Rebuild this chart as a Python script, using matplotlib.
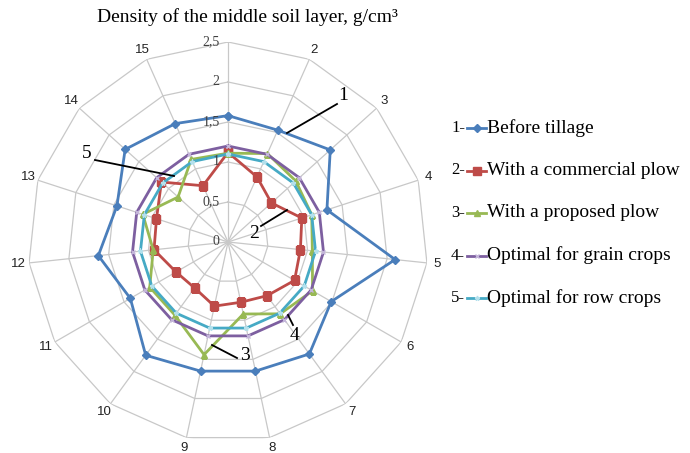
import numpy as np
import matplotlib.pyplot as plt
from matplotlib.lines import Line2D

# Data
categories = [str(i) for i in range(1, 16)]
before_tillage = [1.58, 1.53, 1.72, 1.30, 2.10, 1.49, 1.73, 1.65, 1.65, 1.75, 1.41, 1.63, 1.46, 1.73, 1.62]
commercial_plow = [1.12, 0.89, 0.73, 0.97, 0.91, 0.96, 0.83, 0.77, 0.82, 0.71, 0.75, 0.93, 0.94, 1.12, 0.77]
proposed_plow = [1.11, 1.21, 1.14, 1.10, 1.06, 1.22, 1.11, 0.92, 1.44, 1.13, 1.13, 0.94, 1.12, 0.84, 1.13]
optimal_grain = [1.2] * 15
optimal_row = [1.1] * 15
r_ticks = [0, 0.5, 1, 1.5, 2, 2.5]
r_tick_labels = ["0", "0,5", "1", "1,5", "2", "2,5"]

series = [
    ("Before tillage", before_tillage, "#4a7ebb", "D", 4.5, "#4a7ebb"),
    ("With a commercial plow", commercial_plow, "#be4b48", "s", 5.5, "#be4b48"),
    ("With a proposed plow", proposed_plow, "#98b954", "^", 5, "#98b954"),
    ("Optimal for grain crops", optimal_grain, "#7d5fa0", "x", 3.5, "#c4b6da"),
    ("Optimal for row crops", optimal_row, "#46aac5", "*", 3.5, "#b3e0ec"),
]

serif = "Liberation Serif"
n = len(categories)
angles = np.arange(n) * 2 * np.pi / n
closed = np.append(angles, angles[0])

fig = plt.figure(figsize=(6.9, 4.53), dpi=100)
ax = fig.add_axes([0.0406, 0.0243, 0.5797, 0.8830], projection="polar")
ax.set_theta_offset(np.pi / 2)
ax.set_theta_direction(-1)
ax.set_ylim(0, 2.5)
ax.grid(False)
ax.spines["polar"].set_visible(False)
ax.set_xticks([])
ax.set_yticks([])
ax.patch.set_alpha(0)

# polygon grid
grid_c = "#c8c8c8"
for r in r_ticks[1:]:
    ax.plot(closed, [r] * (n + 1), color=grid_c, lw=0.9, zorder=1)
for a in angles:
    ax.plot([a, a], [0, r_ticks[-1]], color=grid_c, lw=0.9, zorder=1)

# series
for name, vals, color, marker, ms, mcolor in series:
    v = np.append(vals, vals[0])
    ax.plot(closed, v, color=color, lw=2, marker=marker, ms=ms,
            markerfacecolor=mcolor, markeredgecolor=mcolor, mew=1, zorder=3)

# category labels (the first one is hidden behind the "2,5" tick label)
for a, lab in zip(angles[1:], categories[1:]):
    ax.text(a, 2.63, lab, ha="center", va="center", fontsize=9.5,
            family="Liberation Sans", color="#222222")

# radial tick labels
for r, lab in zip(r_ticks, r_tick_labels):
    ax.annotate(lab, xy=(0, r), xytext=(-6, 0), textcoords="offset points",
                ha="right", va="center", fontsize=10, family=serif, color="#404040")

# callouts in figure pixels
W, H = 690, 453
def fp(x, y):
    return (x / W, 1 - y / H)

callouts = [
    ("1", (287, 133), (337, 104), (343, 96)),
    ("2", (261, 226), (287, 210), (254, 234)),
    ("3", (212, 345), (237, 358), (245, 356)),
    ("4", (288, 315), (293, 325), (294, 335)),
    ("5", (95, 160), (174, 176), (87, 154)),
]
for lab, p0, p1, pt in callouts:
    fig.add_artist(Line2D([fp(*p0)[0], fp(*p1)[0]], [fp(*p0)[1], fp(*p1)[1]],
                          transform=fig.transFigure, color="black", lw=1.3, zorder=5))
    fig.text(*fp(*pt), lab, ha="center", va="center", fontsize=14, family=serif)

# title
fig.text(*fp(247, 17), "Density of the middle soil layer, g/cm³", ha="center", va="center",
         fontsize=14, family=serif)

# legend
for i, (name, vals, color, marker, ms, mcolor) in enumerate(series):
    y = 128 + i * 42.5
    fig.text(*fp(451, y), f"{i + 1}-", ha="left", va="center", fontsize=12, family=serif)
    x0, y0 = fp(467, y)
    x1, _ = fp(486, y)
    fig.add_artist(Line2D([x0, x1], [y0, y0], transform=fig.transFigure, color=color, lw=2))
    mx, my = fp(476.5, y)
    fig.add_artist(Line2D([mx], [my], transform=fig.transFigure, color=mcolor, marker=marker,
                          ms=ms, mew=1, lw=0))
    fig.text(*fp(487, y), name, ha="left", va="center", fontsize=14, family=serif)

fig.savefig("out.png", dpi=100)
